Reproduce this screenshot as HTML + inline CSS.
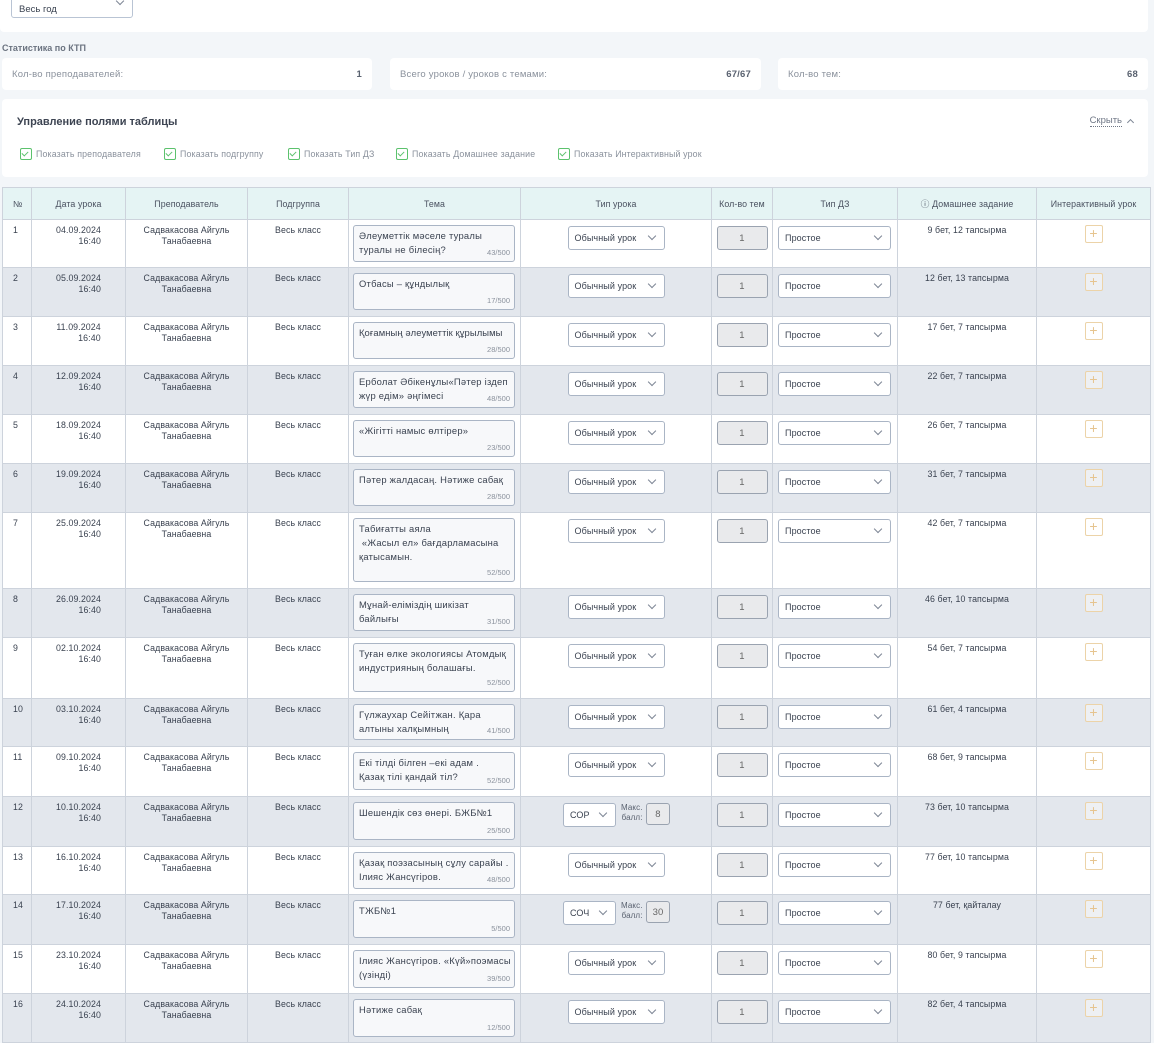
<!DOCTYPE html>
<html><head><meta charset="utf-8">
<style>
*{box-sizing:border-box;margin:0;padding:0}
body{width:1154px;height:1008px;overflow:hidden;background:#f3f6f9;font-family:"Liberation Sans","DejaVu Sans",sans-serif;color:#3a4250;position:relative}
.card{position:absolute;background:#fff;border-radius:4px}
.top{left:0;top:-4px;width:1148px;height:36px}
.yr{position:absolute;left:11px;top:-8px;width:122px;height:30px;border:1px solid #b9c4d4;border-radius:3px;background:#fff;font-size:9.5px;padding:15px 0 0 7px}
.chev{position:absolute;width:6px;height:6px;border-right:1.2px solid #7d8695;border-bottom:1.2px solid #7d8695;transform:rotate(45deg)}
.lbl{position:absolute;left:2px;top:43px;font-size:9px;color:#6b7380;font-weight:bold}
.st{height:32px;top:58px;font-size:9.5px;color:#8a919c;padding:11px 10px 0 10px;letter-spacing:.2px}
.st b{float:right;font-weight:bold;color:#5a6270}
.ctl{left:2px;top:99px;width:1146px;height:78px}
.ctl h3{position:absolute;left:15px;top:17px;font-size:11px;font-weight:bold;color:#3d4452}
.hide{position:absolute;right:26px;top:16px;font-size:9.5px;color:#6e7685;border-bottom:1px dotted #6e7685}
.cb{position:absolute;top:50px;font-size:8.8px;color:#8a919c;letter-spacing:.15px}
.cb:before{content:"";position:absolute;left:-16px;top:-1px;width:10px;height:10px;border:1px solid #5cc26d;border-radius:2px}
.cb:after{content:"";position:absolute;left:-13px;top:1px;width:3px;height:5px;border-right:1.2px solid #5cc26d;border-bottom:1.2px solid #5cc26d;transform:rotate(45deg)}
table{position:absolute;left:2px;top:187px;width:1148px;border-collapse:collapse;table-layout:fixed;font-size:8.8px;background:#fff;letter-spacing:.1px}
td,th{border:1px solid #cdd3dc;vertical-align:top;text-align:center;padding-top:5px;position:relative}
th{height:32px;background:#e5f4f4;font-weight:normal;vertical-align:middle;padding:0;color:#4a5160}
td:first-child,th:first-child{text-align:left;padding-left:10px}
tr.s td{background:#e3e7ed}
.dt{display:inline-block;text-align:right;line-height:10.5px}
td.n{line-height:10.5px}
.ta{margin:0 0 0 4px;width:162px;border:1px solid #aab5c5;border-radius:3px;background:#f7f8fa;text-align:left;font-size:9.4px;letter-spacing:.25px;line-height:14px;padding:3px 5px;position:relative;color:#3a4250;white-space:nowrap;overflow:hidden}
.ta i{position:absolute;right:4px;bottom:1px;font-style:normal;font-size:7.5px;letter-spacing:0;color:#8a919c}
.sel{margin:1px auto 0;width:97px;height:24px;border:1px solid #aab5c5;border-radius:3px;background:#fff;text-align:left;font-size:9px;padding:6px 0 0 6px;position:relative}
.sel2{margin:1px 0 0 5px;width:113px;height:24px;border:1px solid #aab5c5;border-radius:3px;background:#fff;text-align:left;font-size:9px;padding:6px 0 0 6px;position:relative}
.sel .chev,.sel2 .chev{right:9px;top:6px}
.num{margin:1px auto 0;width:51px;height:24px;border:1px solid #9aa3b0;border-radius:3px;background:#e9eaec;font-size:9.5px;padding-top:6px;color:#666}
.pl{margin:0 auto;width:18px;height:18px;border:1px solid #ecd3a8;border-radius:2px;background:#fff;color:#e6c48f;font-size:14px;line-height:15px}
tr.s .pl{background:#eef0f3}
.sr{position:absolute;left:42px;top:6px;width:53px;height:24px;border:1px solid #aab5c5;border-radius:3px;background:#fff;text-align:left;font-size:9px;padding:6px 0 0 6px}
.sr .chev{right:9px;top:6px}
.mx{position:absolute;left:100px;top:6px;font-size:8px;line-height:10px;text-align:right;color:#5a6270}
.mb{position:absolute;left:125px;top:6px;width:24px;height:22px;border:1px solid #9aa3b0;border-radius:3px;background:#e9eaec;font-size:9.5px;padding-top:5px;color:#666}
</style></head><body>
<div class="card top"><div class="yr">Весь год<span class="chev" style="right:9px;top:9px"></span></div></div>
<div class="lbl">Статистика по КТП</div>
<div class="card st" style="left:2px;width:370px">Кол-во преподавателей:<b>1</b></div>
<div class="card st" style="left:390px;width:371px">Всего уроков / уроков с темами:<b>67/67</b></div>
<div class="card st" style="left:778px;width:370px">Кол-во тем:<b>68</b></div>
<div class="card ctl"><h3>Управление полями таблицы</h3><span class="hide">Скрыть</span><span class="chev" style="right:15px;top:21px;transform:rotate(225deg);width:5px;height:5px"></span>
<span class="cb" style="left:34px">Показать преподавателя</span>
<span class="cb" style="left:178px">Показать подгруппу</span>
<span class="cb" style="left:302px">Показать Тип ДЗ</span>
<span class="cb" style="left:410px">Показать Домашнее задание</span>
<span class="cb" style="left:572px">Показать Интерактивный урок</span>
</div>
<table>
<colgroup><col style="width:29px"><col style="width:94px"><col style="width:122px"><col style="width:101px"><col style="width:172px"><col style="width:191px"><col style="width:61px"><col style="width:125px"><col style="width:139px"><col style="width:114px"></colgroup>
<tr><th>№</th><th>Дата урока</th><th>Преподаватель</th><th>Подгруппа</th><th>Тема</th><th>Тип урока</th><th>Кол-во тем</th><th>Тип ДЗ</th><th>ⓘ Домашнее задание</th><th>Интерактивный урок</th></tr>

<tr style="height:48px"><td>1</td><td><div class="dt">04.09.2024<br>16:40</div></td><td class="n">Садвакасова Айгуль<br>Танабаевна</td><td>Весь класс</td><td><div class="ta" style="height:37px">Әлеуметтік мәселе туралы<br>туралы не білесің?<i>43/500</i></div></td><td><div class="sel">Обычный урок<span class="chev"></span></div></td><td><div class="num">1</div></td><td><div class="sel2">Простое<span class="chev"></span></div></td><td>9 бет, 12 тапсырма</td><td><div class="pl">+</div></td></tr>

<tr class="s" style="height:49px"><td>2</td><td><div class="dt">05.09.2024<br>16:40</div></td><td class="n">Садвакасова Айгуль<br>Танабаевна</td><td>Весь класс</td><td><div class="ta" style="height:37px">Отбасы – құндылық<i>17/500</i></div></td><td><div class="sel">Обычный урок<span class="chev"></span></div></td><td><div class="num">1</div></td><td><div class="sel2">Простое<span class="chev"></span></div></td><td>12 бет, 13 тапсырма</td><td><div class="pl">+</div></td></tr>

<tr style="height:49px"><td>3</td><td><div class="dt">11.09.2024<br>16:40</div></td><td class="n">Садвакасова Айгуль<br>Танабаевна</td><td>Весь класс</td><td><div class="ta" style="height:37px;letter-spacing:.1px">Қоғамның әлеуметтік құрылымы<i>28/500</i></div></td><td><div class="sel">Обычный урок<span class="chev"></span></div></td><td><div class="num">1</div></td><td><div class="sel2">Простое<span class="chev"></span></div></td><td>17 бет, 7 тапсырма</td><td><div class="pl">+</div></td></tr>

<tr class="s" style="height:49px"><td>4</td><td><div class="dt">12.09.2024<br>16:40</div></td><td class="n">Садвакасова Айгуль<br>Танабаевна</td><td>Весь класс</td><td><div class="ta" style="height:37px">Ерболат Әбікенұлы«Пәтер іздеп<br>жүр едім» әңгімесі<i>48/500</i></div></td><td><div class="sel">Обычный урок<span class="chev"></span></div></td><td><div class="num">1</div></td><td><div class="sel2">Простое<span class="chev"></span></div></td><td>22 бет, 7 тапсырма</td><td><div class="pl">+</div></td></tr>

<tr style="height:49px"><td>5</td><td><div class="dt">18.09.2024<br>16:40</div></td><td class="n">Садвакасова Айгуль<br>Танабаевна</td><td>Весь класс</td><td><div class="ta" style="height:37px">«Жігітті намыс өлтірер»<i>23/500</i></div></td><td><div class="sel">Обычный урок<span class="chev"></span></div></td><td><div class="num">1</div></td><td><div class="sel2">Простое<span class="chev"></span></div></td><td>26 бет, 7 тапсырма</td><td><div class="pl">+</div></td></tr>

<tr class="s" style="height:49px"><td>6</td><td><div class="dt">19.09.2024<br>16:40</div></td><td class="n">Садвакасова Айгуль<br>Танабаевна</td><td>Весь класс</td><td><div class="ta" style="height:37px">Пәтер жалдасаң. Нәтиже сабақ<i>28/500</i></div></td><td><div class="sel">Обычный урок<span class="chev"></span></div></td><td><div class="num">1</div></td><td><div class="sel2">Простое<span class="chev"></span></div></td><td>31 бет, 7 тапсырма</td><td><div class="pl">+</div></td></tr>

<tr style="height:76px"><td>7</td><td><div class="dt">25.09.2024<br>16:40</div></td><td class="n">Садвакасова Айгуль<br>Танабаевна</td><td>Весь класс</td><td><div class="ta" style="height:64px">Табиғатты аяла<br>&nbsp;«Жасыл ел» бағдарламасына<br>қатысамын.<i>52/500</i></div></td><td><div class="sel">Обычный урок<span class="chev"></span></div></td><td><div class="num">1</div></td><td><div class="sel2">Простое<span class="chev"></span></div></td><td>42 бет, 7 тапсырма</td><td><div class="pl">+</div></td></tr>

<tr class="s" style="height:49px"><td>8</td><td><div class="dt">26.09.2024<br>16:40</div></td><td class="n">Садвакасова Айгуль<br>Танабаевна</td><td>Весь класс</td><td><div class="ta" style="height:37px">Мұнай-еліміздің шикізат<br>байлығы<i>31/500</i></div></td><td><div class="sel">Обычный урок<span class="chev"></span></div></td><td><div class="num">1</div></td><td><div class="sel2">Простое<span class="chev"></span></div></td><td>46 бет, 10 тапсырма</td><td><div class="pl">+</div></td></tr>

<tr style="height:61px"><td>9</td><td><div class="dt">02.10.2024<br>16:40</div></td><td class="n">Садвакасова Айгуль<br>Танабаевна</td><td>Весь класс</td><td><div class="ta" style="height:49px">Туған өлке экологиясы Атомдық<br>индустрияның болашағы.<i>52/500</i></div></td><td><div class="sel">Обычный урок<span class="chev"></span></div></td><td><div class="num">1</div></td><td><div class="sel2">Простое<span class="chev"></span></div></td><td>54 бет, 7 тапсырма</td><td><div class="pl">+</div></td></tr>

<tr class="s" style="height:48px"><td>10</td><td><div class="dt">03.10.2024<br>16:40</div></td><td class="n">Садвакасова Айгуль<br>Танабаевна</td><td>Весь класс</td><td><div class="ta" style="height:36px">Гүлжаухар Сейітжан. Қара<br>алтыны халқымның<i>41/500</i></div></td><td><div class="sel">Обычный урок<span class="chev"></span></div></td><td><div class="num">1</div></td><td><div class="sel2">Простое<span class="chev"></span></div></td><td>61 бет, 4 тапсырма</td><td><div class="pl">+</div></td></tr>

<tr style="height:50px"><td>11</td><td><div class="dt">09.10.2024<br>16:40</div></td><td class="n">Садвакасова Айгуль<br>Танабаевна</td><td>Весь класс</td><td><div class="ta" style="height:38px">Екі тілді білген –екі адам .<br>Қазақ тілі қандай тіл?<i>52/500</i></div></td><td><div class="sel">Обычный урок<span class="chev"></span></div></td><td><div class="num">1</div></td><td><div class="sel2">Простое<span class="chev"></span></div></td><td>68 бет, 9 тапсырма</td><td><div class="pl">+</div></td></tr>

<tr class="s" style="height:50px"><td>12</td><td><div class="dt">10.10.2024<br>16:40</div></td><td class="n">Садвакасова Айгуль<br>Танабаевна</td><td>Весь класс</td><td><div class="ta" style="height:38px">Шешендік сөз өнері. БЖБ№1<i>25/500</i></div></td><td><div class="sr">СОР<span class="chev"></span></div><div class="mx">Макс.<br>балл:</div><div class="mb">8</div></td><td><div class="num">1</div></td><td><div class="sel2">Простое<span class="chev"></span></div></td><td>73 бет, 10 тапсырма</td><td><div class="pl">+</div></td></tr>

<tr style="height:48px"><td>13</td><td><div class="dt">16.10.2024<br>16:40</div></td><td class="n">Садвакасова Айгуль<br>Танабаевна</td><td>Весь класс</td><td><div class="ta" style="height:37px">Қазақ поэзасының сұлу сарайы .<br>Ілияс Жансүгіров.<i>48/500</i></div></td><td><div class="sel">Обычный урок<span class="chev"></span></div></td><td><div class="num">1</div></td><td><div class="sel2">Простое<span class="chev"></span></div></td><td>77 бет, 10 тапсырма</td><td><div class="pl">+</div></td></tr>

<tr class="s" style="height:50px"><td>14</td><td><div class="dt">17.10.2024<br>16:40</div></td><td class="n">Садвакасова Айгуль<br>Танабаевна</td><td>Весь класс</td><td><div class="ta" style="height:38px">ТЖБ№1<i>5/500</i></div></td><td><div class="sr">СОЧ<span class="chev"></span></div><div class="mx">Макс.<br>балл:</div><div class="mb">30</div></td><td><div class="num">1</div></td><td><div class="sel2">Простое<span class="chev"></span></div></td><td>77 бет, қайталау</td><td><div class="pl">+</div></td></tr>

<tr style="height:49px"><td>15</td><td><div class="dt">23.10.2024<br>16:40</div></td><td class="n">Садвакасова Айгуль<br>Танабаевна</td><td>Весь класс</td><td><div class="ta" style="height:38px">Ілияс Жансүгіров. «Күй»поэмасы<br>(үзінді)<i>39/500</i></div></td><td><div class="sel">Обычный урок<span class="chev"></span></div></td><td><div class="num">1</div></td><td><div class="sel2">Простое<span class="chev"></span></div></td><td>80 бет, 9 тапсырма</td><td><div class="pl">+</div></td></tr>

<tr class="s" style="height:49px"><td>16</td><td><div class="dt">24.10.2024<br>16:40</div></td><td class="n">Садвакасова Айгуль<br>Танабаевна</td><td>Весь класс</td><td><div class="ta" style="height:38px">Нәтиже сабақ<i>12/500</i></div></td><td><div class="sel">Обычный урок<span class="chev"></span></div></td><td><div class="num">1</div></td><td><div class="sel2">Простое<span class="chev"></span></div></td><td>82 бет, 4 тапсырма</td><td><div class="pl">+</div></td></tr>
</table>
</body></html>
